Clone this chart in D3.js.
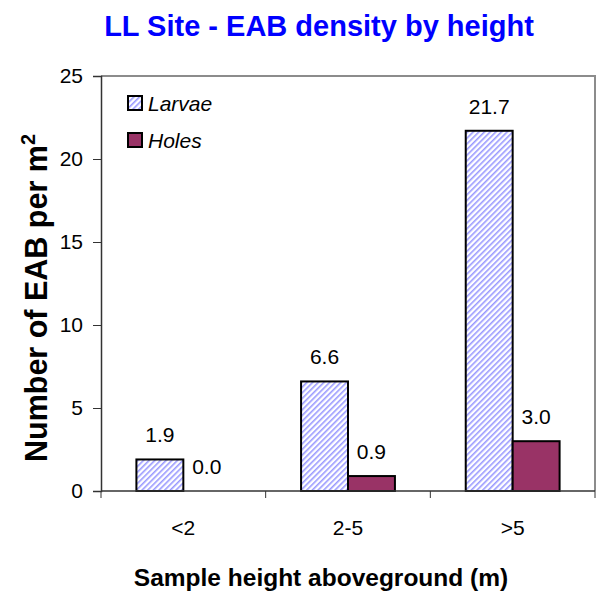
<!DOCTYPE html>
<html>
<head>
<meta charset="utf-8">
<script src="https://cdn.jsdelivr.net/npm/d3@7"></script>
<style>
  body { margin: 0; background: #fff; }
  text { font-family: Arial, "Liberation Sans", sans-serif; }
</style>
</head>
<body>
<div id="chart"></div>
<script>
// chart data
const categories = ['<2', '2-5', '>5'];
const seriesNames = ['Larvae', 'Holes'];
const larvae = [1.9, 6.6, 21.7];
const holes = [0.0, 0.9, 3.0];
const yTicks = [0, 5, 10, 15, 20, 25];

const width = 600, height = 596;
const margin = {top: 76, right: 5, bottom: 105, left: 101};
const innerW = width - margin.left - margin.right;
const innerH = height - margin.top - margin.bottom;
const labelSize = 21;

const svg = d3.select('#chart').append('svg')
  .attr('width', width)
  .attr('height', height);

// hatch pattern for larvae
const defs = svg.append('defs');
defs.append('pattern')
  .attr('id', 'hatch')
  .attr('patternUnits', 'userSpaceOnUse')
  .attr('width', 4)
  .attr('height', 4)
  .attr('patternTransform', 'rotate(45)')
  .call(p => {
    p.append('rect').attr('width', 4).attr('height', 4).attr('fill', '#fff');
    p.append('line')
      .attr('x1', 0).attr('y1', 0).attr('x2', 0).attr('y2', 4)
      .attr('stroke', '#9999ff').attr('stroke-width', 3.2);
  });

const fills = ['url(#hatch)', '#993366'];

const g = svg.append('g')
  .attr('transform', `translate(${margin.left},${margin.top})`);

const x = d3.scaleBand()
  .domain(categories)
  .range([0, innerW])
  .paddingInner(0.43)
  .paddingOuter(0.215);

const xSub = d3.scaleBand()
  .domain(seriesNames)
  .range([0, x.bandwidth()]);

const y = d3.scaleLinear()
  .domain([0, 25])
  .range([innerH, 0]);

// plot frame (top + right)
g.append('path')
  .attr('d', `M0,0H${innerW}V${innerH}`)
  .attr('fill', 'none')
  .attr('stroke', '#8c8c8c')
  .attr('stroke-width', 2);

const data = categories.map((c, i) => ({cat: c, values: [larvae[i], holes[i]]}));

const groups = g.selectAll('.grp')
  .data(data)
  .join('g')
  .attr('class', 'grp')
  .attr('transform', d => `translate(${x(d.cat)},0)`);

groups.selectAll('rect')
  .data(d => d.values.map((v, j) => ({series: seriesNames[j], v, j})))
  .join('rect')
  .attr('x', d => xSub(d.series))
  .attr('y', d => y(d.v))
  .attr('width', xSub.bandwidth())
  .attr('height', d => innerH - y(d.v))
  .attr('fill', d => fills[d.j])
  .attr('stroke', '#000')
  .attr('stroke-width', d => d.v > 0 ? 2 : 0);

groups.selectAll('text.val')
  .data(d => d.values.map((v, j) => ({series: seriesNames[j], v, j})))
  .join('text')
  .attr('class', 'val')
  .attr('x', d => xSub(d.series) + xSub.bandwidth() / 2)
  .attr('y', d => y(d.v) - 17)
  .attr('text-anchor', 'middle')
  .attr('font-size', labelSize)
  .text(d => d.v.toFixed(1));

// y axis
const yAxis = g.append('g')
  .call(d3.axisLeft(y).tickValues(yTicks).tickSize(8).tickPadding(10));
yAxis.select('.domain').attr('stroke', '#333').attr('stroke-width', 1.5);
yAxis.selectAll('.tick line').attr('stroke', '#333');
yAxis.selectAll('.tick text').attr('font-size', labelSize).attr('fill', '#000')
  .attr('font-family', 'Arial, "Liberation Sans", sans-serif');

// x axis: ticks between categories
const boundaries = d3.range(categories.length + 1).map(i => i * x.step());
const xAxisG = g.append('g').attr('transform', `translate(0,${innerH})`);
xAxisG.append('line')
  .attr('x1', 0).attr('x2', innerW)
  .attr('stroke', '#333').attr('stroke-width', 1.5);
xAxisG.selectAll('line.tk')
  .data(boundaries)
  .join('line')
  .attr('class', 'tk')
  .attr('x1', d => d).attr('x2', d => d)
  .attr('y1', 0).attr('y2', 7)
  .attr('stroke', '#333');
xAxisG.selectAll('text')
  .data(categories)
  .join('text')
  .attr('x', d => x(d) + x.bandwidth() / 2)
  .attr('y', 44)
  .attr('text-anchor', 'middle')
  .attr('font-size', labelSize)
  .text(d => d);

// legend
const legend = g.append('g').attr('transform', 'translate(27,20)');
seriesNames.forEach((s, i) => {
  const row = legend.append('g').attr('transform', `translate(0,${i * 37})`);
  row.append('rect')
    .attr('width', 14).attr('height', 14)
    .attr('fill', fills[i])
    .attr('stroke', '#000').attr('stroke-width', 2);
  row.append('text')
    .attr('x', 20).attr('y', 15)
    .attr('font-size', labelSize)
    .attr('font-style', 'italic')
    .text(s);
});

// titles
svg.append('text')
  .attr('x', 319).attr('y', 36)
  .attr('text-anchor', 'middle')
  .attr('font-size', 29)
  .attr('font-weight', 'bold')
  .attr('fill', '#0000ff')
  .text('LL Site - EAB density by height');

svg.append('text')
  .attr('x', 321).attr('y', 586)
  .attr('text-anchor', 'middle')
  .attr('font-size', 24.5)
  .attr('font-weight', 'bold')
  .text('Sample height aboveground (m)');

const yTitle = svg.append('text')
  .attr('transform', 'translate(47,298) rotate(-90)')
  .attr('text-anchor', 'middle')
  .attr('font-size', 30.5)
  .attr('font-weight', 'bold');
yTitle.append('tspan').text('Number of EAB per m');
yTitle.append('tspan').attr('dy', -12).attr('font-size', 20).text('2');
</script>
</body>
</html>
